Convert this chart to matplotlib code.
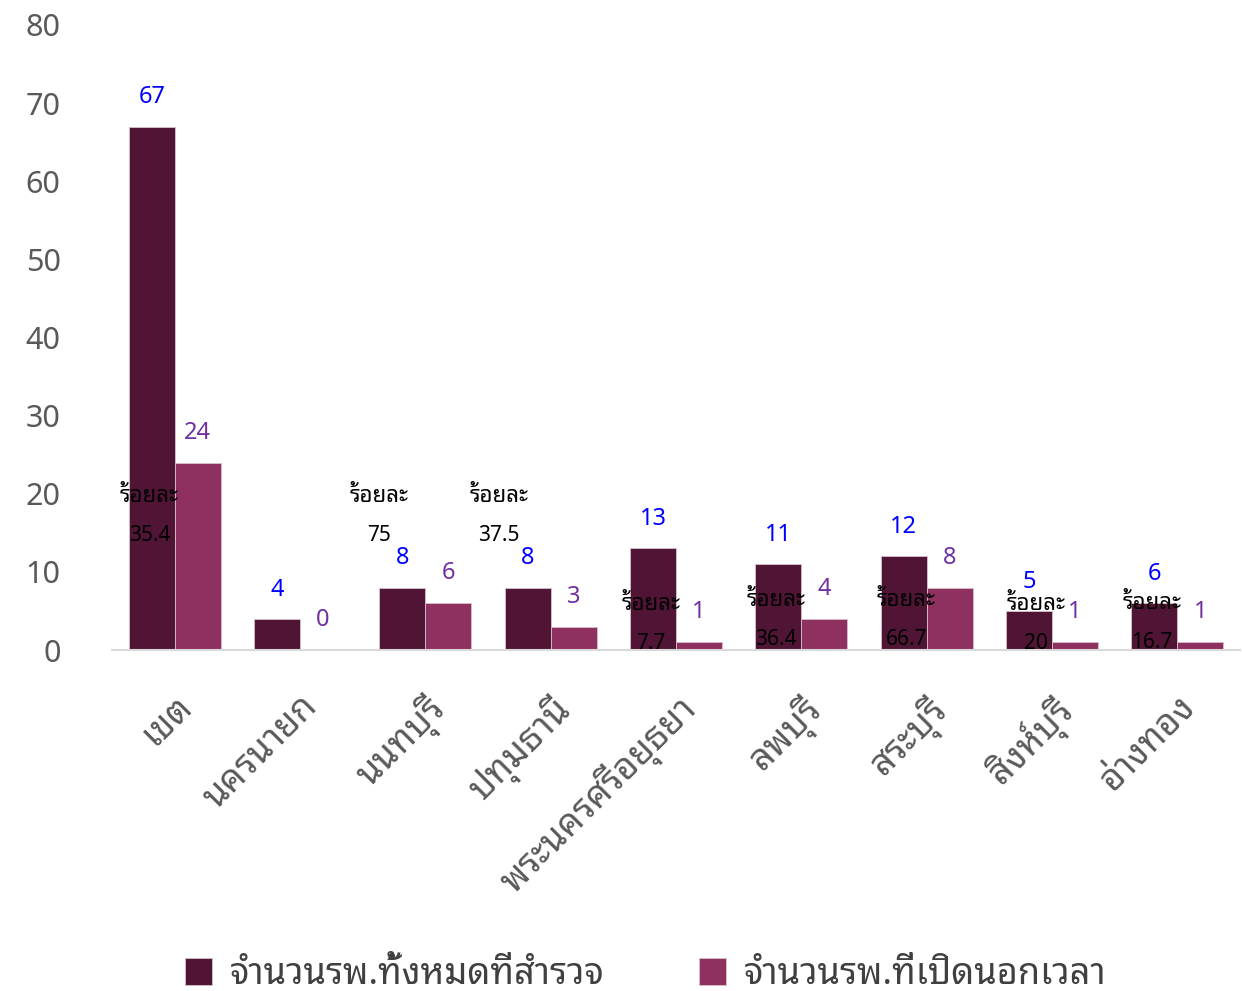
import matplotlib
matplotlib.use("Agg")
import matplotlib.pyplot as plt
import numpy as np
from matplotlib import font_manager
from matplotlib.ft2font import FT2Font

# ข้อมูล
jangwat = ["เขต", "นครนายก", "นนทบุรี", "ปทุมธานี", "พระนครศรีอยุธยา",
           "ลพบุรี", "สระบุรี", "สิงห์บุรี", "อ่างทอง"]
rps_tangmod = [67, 4, 8, 8, 13, 11, 12, 5, 6]
rps_nokwela = [24, 0, 6, 3, 1, 4, 8, 1, 1]
roila = [35.4, None, 75, 37.5, 7.7, 36.4, 66.7, 20, 16.7]
chue_series = ["จำนวนรพ.ทั้งหมดที่สำรวจ", "จำนวนรพ.ที่เปิดนอกเวลา"]

# ตำแหน่งป้าย "ร้อยละ" (ขยับเอง ไม่ใช่ข้อมูล)
pct_dx = [-0.2, 0, -0.37, -0.41, -0.2, -0.2, -0.16, -0.13, -0.2]
pct_y = [19.6, 0, 19.6, 19.6, 5.8, 6.3, 6.3, 5.8, 6.0]


# หาฟอนต์ที่มีอักษรไทย (เอาแบบมีหัวก่อน)
def หาฟอนต์ไทย():
    names = []
    for f in font_manager.fontManager.ttflist:
        try:
            cmap = FT2Font(f.fname).get_charmap()
        except Exception:
            continue
        if 0x0E01 in cmap and f.name not in names:
            names.append(f.name)
    pref = ["Noto Sans Thai Looped", "Loma", "Garuda", "Sarabun", "Tlwg Typo",
            "Norasi", "Noto Sans Thai", "Noto Sans Thai UI"]
    names.sort(key=lambda n: pref.index(n) if n in pref else 99)
    return names


thai = หาฟอนต์ไทย()
plt.rcParams['font.family'] = thai[:2] + ['DejaVu Sans']

fig = plt.figure(figsize=(12.42, 9.91), dpi=100)
ax = fig.add_axes([112 / 1242, 1 - 650 / 991, 1128 / 1242, 625 / 991])

x = np.arange(len(jangwat))
w = 0.366
c_dark = "#501535"
c_light = "#8E3060"
ax.bar(x - w / 2, rps_tangmod, w, color=c_dark, edgecolor="#d8c0cc", linewidth=0.6, label=chue_series[0])
ax.bar(x + w / 2, rps_nokwela, w, color=c_light, edgecolor="#d8c0cc", linewidth=0.6, label=chue_series[1])

# ป้ายตัวเลข
for i in range(len(jangwat)):
    ax.text(x[i] - w / 2, rps_tangmod[i] + 2.2, str(rps_tangmod[i]), ha="center", va="bottom",
            color="#0000FF", fontsize=17)
    ax.text(x[i] + w / 2, rps_nokwela[i] + 2.3, str(rps_nokwela[i]), ha="center", va="bottom",
            color="#7030A0", fontsize=17)
    if roila[i] is not None:
        ax.text(x[i] + pct_dx[i], pct_y[i], "ร้อยละ", ha="center", va="center", color="black",
                fontsize=16, fontweight="bold")
        ax.text(x[i] + pct_dx[i], pct_y[i] - 5, f"{roila[i]:g}", ha="center", va="center",
                color="black", fontsize=15)

ax.set_xlim(-0.5, 8.5)
ax.set_ylim(0, 80)
ax.set_yticks(range(0, 81, 10))
ax.tick_params(axis="y", length=0, pad=37, labelsize=22, labelcolor="#595959")
ax.set_xticks(x)
ax.set_xticklabels(jangwat, rotation=45, ha="right", rotation_mode="anchor",
                   fontsize=26, color="#595959")
ax.tick_params(axis="x", length=0, pad=28)
for s in ["top", "right", "left"]:
    ax.spines[s].set_visible(False)
ax.spines["bottom"].set_color("#d9d9d9")
ax.spines["bottom"].set_linewidth(1.5)

leg = fig.legend(loc="lower center", bbox_to_anchor=(0.52, -0.035), ncol=2, frameon=False,
                 fontsize=26, handlelength=0.75, handleheight=0.75, columnspacing=2.6,
                 handletextpad=0.5)
for t in leg.get_texts():
    t.set_color("#404040")

fig.savefig("out.png", dpi=100)
